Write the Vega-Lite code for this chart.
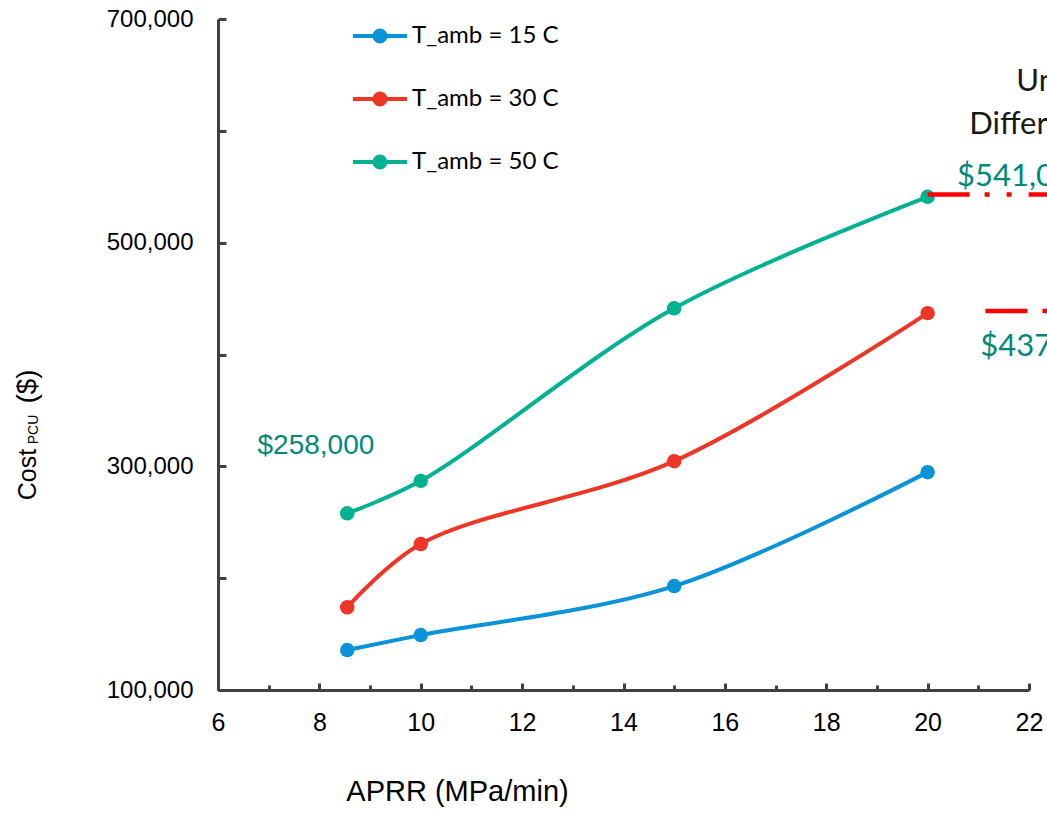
{
  "$schema": "https://vega.github.io/schema/vega-lite/v6.json",
  "width": 811,
  "height": 671,
  "autosize": {"type": "none"},
  "padding": {"left": 218, "top": 19, "right": 18, "bottom": 129},
  "background": "white",
  "config": {
    "view": {"stroke": null},
    "font": "Liberation Sans",
    "axis": {"grid": false, "titleFontWeight": "normal", "titleColor": "#000000", "labelColor": "#000000"}
  },
  "datasets": {
    "cost": [
      {"aprr": 8.55, "series": "T_amb = 15 C", "cost": 135700},
      {"aprr": 10, "series": "T_amb = 15 C", "cost": 149100},
      {"aprr": 15, "series": "T_amb = 15 C", "cost": 192900},
      {"aprr": 20, "series": "T_amb = 15 C", "cost": 294800},
      {"aprr": 8.55, "series": "T_amb = 30 C", "cost": 173900},
      {"aprr": 10, "series": "T_amb = 30 C", "cost": 230500},
      {"aprr": 15, "series": "T_amb = 30 C", "cost": 304600},
      {"aprr": 20, "series": "T_amb = 30 C", "cost": 437000},
      {"aprr": 8.55, "series": "T_amb = 50 C", "cost": 258000},
      {"aprr": 10, "series": "T_amb = 50 C", "cost": 287000},
      {"aprr": 15, "series": "T_amb = 50 C", "cost": 441300},
      {"aprr": 20, "series": "T_amb = 50 C", "cost": 541000}
    ],
    "levels": [
      {"from": 20, "to": 23.5, "cost": 543000},
      {"from": 21.14, "to": 23.5, "cost": 439000}
    ],
    "levelLabels": [
      {"aprr": 20.58, "cost": 551000, "label": "$541,000"},
      {"aprr": 21.04, "cost": 399000, "label": "$437,000"}
    ],
    "startLabel": [
      {"aprr": 6.78, "cost": 311000, "label": "$258,000"}
    ],
    "note": [
      {"aprr": 21.75, "cost": 636000, "label": "Unit"},
      {"aprr": 20.82, "cost": 597000, "label": "Difference"}
    ]
  },
  "resolve": {"axis": {"y": "independent"}},
  "layer": [
    {
      "data": {"name": "cost"},
      "mark": {"type": "line", "interpolate": "catmull-rom", "strokeWidth": 4},
      "encoding": {
        "x": {
          "field": "aprr", "type": "quantitative",
          "scale": {"domain": [6, 22], "nice": false, "zero": false},
          "axis": {
            "title": "APRR (MPa/min)",
            "titleFont": "Liberation Sans", "titleFontSize": 29,
            "titleX": 239, "titleY": 110, "titleAlign": "center", "titleBaseline": "alphabetic", "titleAnchor": null,
            "values": [6, 7, 8, 9, 10, 11, 12, 13, 14, 15, 16, 17, 18, 19, 20, 21, 22],
            "labelExpr": "datum.value % 2 === 0 ? datum.label : ''",
            "labelFont": "Liberation Sans", "labelFontSize": 25,
            "labelPadding": 27, "labelFlush": false, "labelOverlap": false,
            "domainColor": "#404040", "domainWidth": 3,
            "tickColor": "#404040", "tickWidth": 3,
            "tickSize": {"condition": {"test": "datum.value % 2 === 1", "value": -5}, "value": -7}
          }
        },
        "y": {
          "field": "cost", "type": "quantitative",
          "scale": {"domain": [100000, 700000], "nice": false, "zero": false},
          "axis": {
            "orient": "left",
            "title": "Cost",
            "titleFont": "Liberation Sans", "titleFontSize": 25, "titleAngle": 270,
            "titleX": -183, "titleY": 455, "titleAlign": "center", "titleBaseline": "alphabetic", "titleAnchor": null,
            "values": [100000, 200000, 300000, 400000, 500000, 600000, 700000],
            "labelExpr": "datum.value % 200000 === 100000 ? datum.label : ''",
            "labelFont": "Liberation Sans", "labelFontSize": 24,
            "labelPadding": 33, "labelFlush": false, "labelOverlap": false,
            "domainColor": "#404040", "domainWidth": 3,
            "tickColor": "#404040", "tickWidth": 3, "tickSize": -8
          }
        },
        "color": {
          "field": "series", "type": "nominal",
          "scale": {
            "domain": ["T_amb = 15 C", "T_amb = 30 C", "T_amb = 50 C"],
            "range": ["#0A93D8", "#EE3626", "#00B192"]
          },
          "legend": {
            "orient": "none", "legendX": 150, "legendY": 5, "title": null,
            "padding": 0,
            "symbolType": "M-2.7,0L2.7,0M0.55,0A0.55,0.55,0,1,1,-0.55,0A0.55,0.55,0,1,1,0.55,0Z",
            "symbolSize": 400, "symbolStrokeWidth": 4,
            "labelFont": "Lato", "labelFontSize": 24, "labelColor": "#000000",
            "labelOffset": 20, "rowPadding": 35,
            "encode": {
              "symbols": {
                "update": {
                  "fill": {"scale": "color", "field": "value"},
                  "stroke": {"scale": "color", "field": "value"},
                  "opacity": {"value": 1}
                }
              }
            }
          }
        }
      }
    },
    {
      "data": {"name": "cost"},
      "mark": {"type": "point", "filled": true, "size": 210, "opacity": 1},
      "encoding": {
        "x": {"field": "aprr", "type": "quantitative", "scale": {"domain": [6, 22], "nice": false, "zero": false}},
        "y": {
          "field": "cost", "type": "quantitative",
          "scale": {"domain": [100000, 700000], "nice": false, "zero": false},
          "axis": {
            "orient": "left", "title": "PCU",
            "titleFont": "Liberation Sans", "titleFontSize": 14, "titleAngle": 270,
            "titleX": -181, "titleY": 410, "titleAlign": "center", "titleBaseline": "alphabetic", "titleAnchor": null,
            "domain": false, "ticks": false, "labels": false
          }
        },
        "color": {"field": "series", "type": "nominal"}
      }
    },
    {
      "data": {"name": "levels"},
      "mark": {"type": "rule", "color": "#FF0000", "strokeWidth": 4.5, "strokeDash": [42, 15, 5, 17, 5, 17], "strokeCap": "butt"},
      "encoding": {
        "x": {"field": "from", "type": "quantitative", "scale": {"domain": [6, 22], "nice": false, "zero": false}},
        "x2": {"field": "to"},
        "y": {
          "field": "cost", "type": "quantitative",
          "scale": {"domain": [100000, 700000], "nice": false, "zero": false},
          "axis": {
            "orient": "left", "title": "($)",
            "titleFont": "Liberation Sans", "titleFontSize": 28, "titleAngle": 270,
            "titleX": -183, "titleY": 367, "titleAlign": "center", "titleBaseline": "alphabetic", "titleAnchor": null,
            "domain": false, "ticks": false, "labels": false
          }
        }
      }
    },
    {
      "data": {"name": "levelLabels"},
      "mark": {"type": "text", "align": "left", "baseline": "alphabetic", "font": "Lato", "fontSize": 31, "color": "#00897A"},
      "encoding": {
        "x": {"field": "aprr", "type": "quantitative", "scale": {"domain": [6, 22], "nice": false, "zero": false}},
        "y": {"field": "cost", "type": "quantitative", "scale": {"domain": [100000, 700000], "nice": false, "zero": false}, "axis": null},
        "text": {"field": "label"}
      }
    },
    {
      "data": {"name": "startLabel"},
      "mark": {"type": "text", "align": "left", "baseline": "alphabetic", "font": "Liberation Sans", "fontSize": 28, "color": "#00897A"},
      "encoding": {
        "x": {"field": "aprr", "type": "quantitative", "scale": {"domain": [6, 22], "nice": false, "zero": false}},
        "y": {"field": "cost", "type": "quantitative", "scale": {"domain": [100000, 700000], "nice": false, "zero": false}, "axis": null},
        "text": {"field": "label"}
      }
    },
    {
      "data": {"name": "note"},
      "mark": {"type": "text", "align": "left", "baseline": "alphabetic", "font": "Lato", "fontSize": 31, "color": "#1A1A14"},
      "encoding": {
        "x": {"field": "aprr", "type": "quantitative", "scale": {"domain": [6, 22], "nice": false, "zero": false}},
        "y": {"field": "cost", "type": "quantitative", "scale": {"domain": [100000, 700000], "nice": false, "zero": false}, "axis": null},
        "text": {"field": "label"}
      }
    }
  ]
}
